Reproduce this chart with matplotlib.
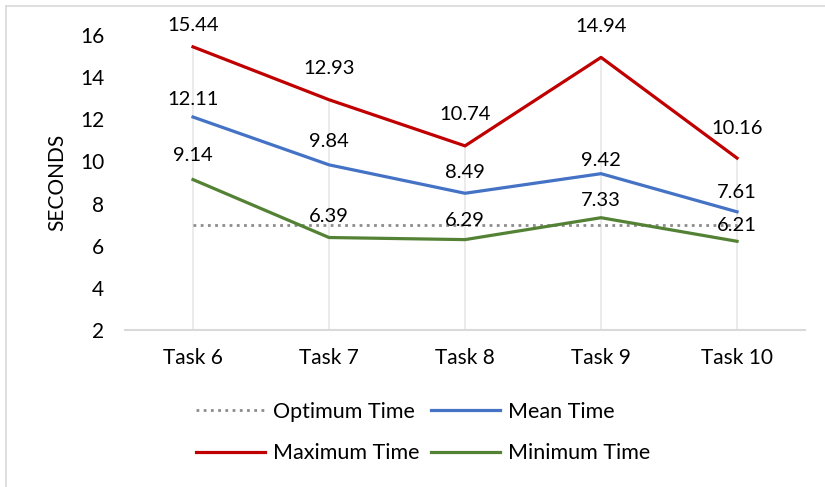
import matplotlib.pyplot as plt
from matplotlib.lines import Line2D

plt.rcParams['font.family'] = ['Lato', 'DejaVu Sans']

tasks = ['Task 6', 'Task 7', 'Task 8', 'Task 9', 'Task 10']
optimum_time = [7, 7, 7, 7, 7]
mean_time = [12.11, 9.84, 8.49, 9.42, 7.61]
max_time = [15.44, 12.93, 10.74, 14.94, 10.16]
min_time = [9.14, 6.39, 6.29, 7.33, 6.21]

# how far (px) each value label sits above its point
mean_lift = [18, 23, 21, 13, 19]
max_lift = [21, 31, 31, 31, 30]
min_lift = [24, 21, 19, 17, 16]

fig = plt.figure(figsize=(8.25, 4.87), dpi=100)
ax = fig.add_axes([0.1515, 0.3224, 0.8243, 0.6056])

x = list(range(len(tasks)))

# drop lines from the axis up to the highest point of each task
ax.vlines(x, 2, max_time, color='#e8e8e8', lw=1.2, zorder=1)

ax.plot(x, optimum_time, color='#8c8c8c', lw=2, ls=(0, (1, 1.6)), zorder=3)
ax.plot(x, mean_time, color='#4472C4', lw=2.3, zorder=3)
ax.plot(x, max_time, color='#C00000', lw=2.3, zorder=3)
ax.plot(x, min_time, color='#548235', lw=2.3, zorder=3)

for series, lift in ((mean_time, mean_lift), (max_time, max_lift), (min_time, min_lift)):
    for xi, v, d in zip(x, series, lift):
        ax.annotate(f'{v:.2f}', (xi, v), xytext=(0, d * 0.72), textcoords='offset points',
                    ha='center', va='center', fontsize=14.5, zorder=4)

ax.set_xlim(-0.5, len(tasks) - 0.5)
ax.set_ylim(2, 16)
ax.set_yticks(range(2, 17, 2))
ax.set_xticks(x)
ax.set_xticklabels(tasks)
ax.tick_params(axis='both', length=0, labelsize=15)
ax.tick_params(axis='x', pad=13)
ax.tick_params(axis='y', pad=15)
ax.set_ylabel('SECONDS', fontsize=15, labelpad=9)

for side in ('top', 'right', 'left'):
    ax.spines[side].set_visible(False)
ax.spines['bottom'].set_color('#d9d9d9')
ax.spines['bottom'].set_linewidth(1.5)

# column-major fill: Optimum/Maximum in first column, Mean/Minimum in second
handles = [
    Line2D([], [], color='#8c8c8c', lw=2, ls=(0, (1, 1.6))),
    Line2D([], [], color='#C00000', lw=2.3),
    Line2D([], [], color='#4472C4', lw=2.3),
    Line2D([], [], color='#548235', lw=2.3),
]
labels = ['Optimum Time', 'Maximum Time', 'Mean Time', 'Minimum Time']
fig.legend(handles, labels, ncol=2, loc='center', bbox_to_anchor=(0.513, 0.112),
           frameon=False, fontsize=15.5, handlelength=3.2, handletextpad=0.4,
           columnspacing=0.5, labelspacing=1.0)

# chart frame edges
fig.add_artist(Line2D([0.007, 1], [0.988, 0.988], color='#d9d9d9', lw=1.2))
fig.add_artist(Line2D([0.007, 0.007], [0, 0.988], color='#d9d9d9', lw=1.2))

fig.savefig('out.png', dpi=100)
